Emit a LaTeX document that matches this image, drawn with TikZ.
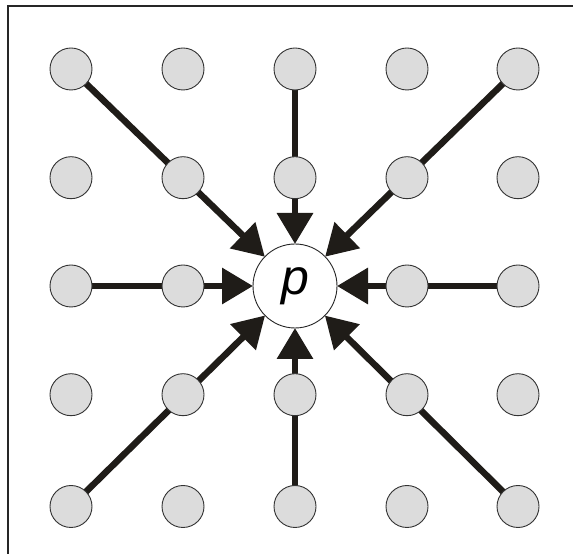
\documentclass[tikz,border=0pt]{standalone}
\usepackage{fontspec}
\setmainfont{Liberation Sans}
\usetikzlibrary{arrows.meta}
\pgfdeclarelayer{background}
\pgfsetlayers{background,main}
\definecolor{dotgray}{HTML}{DCDCDC}
\definecolor{ink}{HTML}{1F1C18}
\begin{document}
\begin{tikzpicture}[x=1pt,y=1pt,
  dot/.style={circle,draw=black!80,line width=0.9pt,fill=dotgray,minimum size=42pt,inner sep=0pt,outer sep=0pt},
  center/.style={circle,draw=black!85,line width=0.9pt,fill=white,minimum size=84pt,inner sep=0pt,outer sep=0pt,font=\fontsize{50}{50}\selectfont\itshape},
  ray/.style={draw=ink,line width=6.5pt,-{Triangle[length=31pt,width=35pt]}}]
\useasboundingbox (0,0) rectangle (573,554);
\draw[line width=1.5pt,black!85] (8,-5) -- (8,548) -- (580,548);
% grid coordinates
\def\colA{71}\def\colB{183}\def\colC{295}\def\colD{407}\def\colE{518}
\def\rowA{485}\def\rowB{376.3}\def\rowC{268}\def\rowD{159.3}\def\rowE{47.5}
\foreach \r/\ry in {1/\rowA,2/\rowB,3/\rowC,4/\rowD,5/\rowE}{
  \foreach \c/\cx in {1/\colA,2/\colB,3/\colC,4/\colD,5/\colE}{
    \ifnum\r=3 \ifnum\c=3 \else
      \node[dot] (n\r\c) at (\cx,\ry) {};
    \fi\else
      \node[dot] (n\r\c) at (\cx,\ry) {};
    \fi
  }
}
\node[center] (p) at (\colC,\rowC) {p};
\begin{pgfonlayer}{background}
  \foreach \o in {n11,n13,n15,n31,n35,n51,n53,n55}{
    \draw[ray] (\o.center) -- (p);
  }
\end{pgfonlayer}
\end{tikzpicture}
\end{document}
